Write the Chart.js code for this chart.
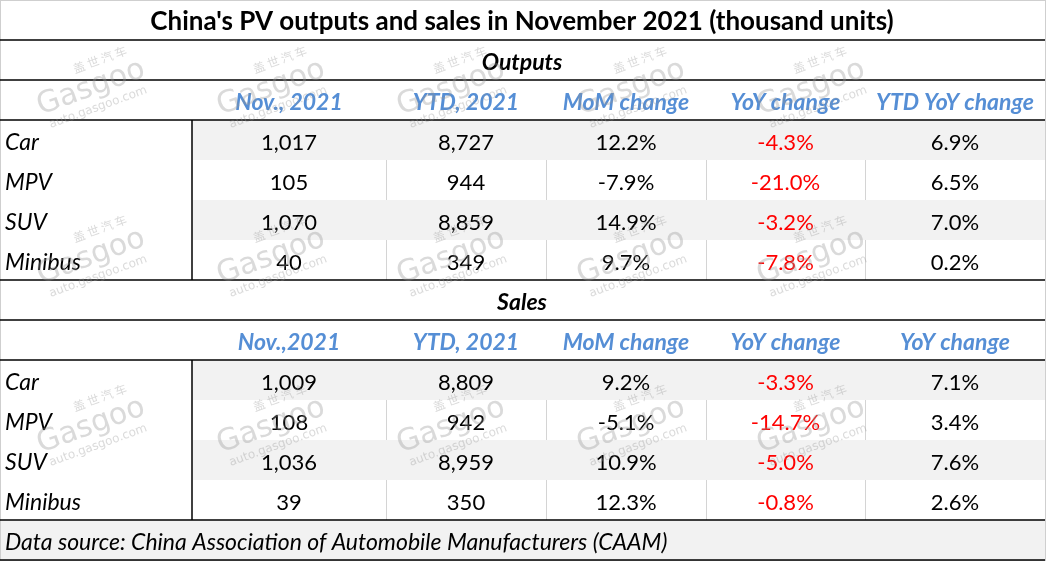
<!DOCTYPE html>
<html>
<head>
<meta charset="utf-8">
<script src="https://cdn.jsdelivr.net/npm/chart.js@4.4.1/dist/chart.umd.min.js"></script>
<style>
  html, body { margin: 0; padding: 0; background: #fff; }
  #wrap { width: 1047px; height: 566px; }
</style>
</head>
<body>
<div id="wrap"><canvas id="table" width="1047" height="566"></canvas></div>
<script>
// table contents
const title = "China's PV outputs and sales in November 2021 (thousand units)";
const categories = ['Car', 'MPV', 'SUV', 'Minibus'];
const outputHeaders = ['Nov., 2021', 'YTD, 2021', 'MoM change', 'YoY change', 'YTD YoY change'];
const salesHeaders = ['Nov.,2021', 'YTD, 2021', 'MoM change', 'YoY change', 'YoY change'];

const outputNov = [1017, 105, 1070, 40];
const outputYtd = [8727, 944, 8859, 349];
const outputMom = [12.2, -7.9, 14.9, 9.7];
const outputYoy = [-4.3, -21.0, -3.2, -7.8];
const outputYtdYoy = [6.9, 6.5, 7.0, 0.2];

const salesNov = [1009, 108, 1036, 39];
const salesYtd = [8809, 942, 8959, 350];
const salesMom = [9.2, -5.1, 10.9, 12.3];
const salesYoy = [-3.3, -14.7, -5.0, -0.8];
const salesYtdYoy = [7.1, 3.4, 7.6, 2.6];

const source = 'Data source: China Association of Automobile Manufacturers (CAAM)';

// layout (x in px units, y in rows)
const colEdges = [0, 192, 386, 546, 706, 865, 1045];
const BASE = 0.74; // baseline inside a row
const blue = '#558ed5';
const red = '#ff0000';

const fmtNum = v => v.toLocaleString('en-US');
const fmtPct = v => v.toFixed(1) + '%';
const colMid = c => (colEdges[c] + colEdges[c + 1]) / 2;

const cells = [];
function cell(x, row, text, font, color, align) {
  cells.push({ x: x, y: row + BASE, text: text, font: font, color: color || '#000', align: align || 'center' });
}

function section(startRow, name, headers, cols) {
  cell(522, startRow, name, 'italic bold 23px Lato');
  headers.forEach((h, i) => cell(colMid(i + 1), startRow + 1, h, 'italic bold 23px Lato', blue));
  categories.forEach((cat, r) => {
    const row = startRow + 2 + r;
    cell(5, row, cat, 'italic 23px Lato', '#000', 'left');
    cell(colMid(1), row, fmtNum(cols[0][r]), '22px Lato');
    cell(colMid(2), row, fmtNum(cols[1][r]), '22px Lato');
    cell(colMid(3), row, fmtPct(cols[2][r]), '22px Lato');
    cell(colMid(4), row, fmtPct(cols[3][r]), '22px Lato', red);
    cell(colMid(5), row, fmtPct(cols[4][r]), '22px Lato');
  });
}

cell(522, 0, title, 'bold 26px Lato');
section(1, 'Outputs', outputHeaders, [outputNov, outputYtd, outputMom, outputYoy, outputYtdYoy]);
section(7, 'Sales', salesHeaders, [salesNov, salesYtd, salesMom, salesYoy, salesYtdYoy]);
cell(5, 13, source, 'italic 23px Lato', '#000', 'left');

const shadedRows = [3, 5, 9, 11];
const plainRows = [4, 6, 10, 12];
const blackLines = [1, 2, 3, 7, 8, 9, 13, 14];
const marks = [];
[85, 254, 423].forEach(y => [90, 270, 450, 630, 810].forEach(x => marks.push({ x, y })));

const gridPlugin = {
  id: 'grid',
  beforeDatasetsDraw(chart) {
    const { ctx, scales: { x, y } } = chart;
    const px = v => x.getPixelForValue(v);
    const py = v => y.getPixelForValue(v);
    ctx.save();
    ctx.fillStyle = '#f2f2f2';
    shadedRows.forEach(r => ctx.fillRect(px(colEdges[1]), py(r), px(colEdges[6]) - px(colEdges[1]), py(r + 1) - py(r)));
    ctx.fillRect(px(0), py(13), px(colEdges[6]) - px(0), py(14) - py(13));

    ctx.strokeStyle = '#d4d4d4';
    ctx.lineWidth = 1;
    plainRows.forEach(r => {
      for (let c = 2; c <= 5; c++) {
        ctx.beginPath();
        ctx.moveTo(px(colEdges[c]) + 0.5, py(r));
        ctx.lineTo(px(colEdges[c]) + 0.5, py(r + 1));
        ctx.stroke();
      }
    });
    ctx.strokeStyle = '#cfcfcf';
    ctx.strokeRect(0.5, 0.5, px(colEdges[6]), py(14));

    ctx.strokeStyle = '#000';
    ctx.lineWidth = 1.5;
    blackLines.forEach(r => {
      ctx.beginPath();
      ctx.moveTo(px(0), py(r));
      ctx.lineTo(px(colEdges[6]), py(r));
      ctx.stroke();
    });
    [[3, 7], [9, 13]].forEach(([a, b]) => {
      ctx.beginPath();
      ctx.moveTo(px(colEdges[1]), py(a));
      ctx.lineTo(px(colEdges[1]), py(b));
      ctx.stroke();
    });
    ctx.restore();
  },
  afterDatasetsDraw(chart) {
    const { ctx } = chart;
    const meta = chart.getDatasetMeta(0);
    ctx.save();
    ctx.textBaseline = 'alphabetic';
    meta.data.forEach((pt, i) => {
      const c = cells[i];
      ctx.font = c.font;
      ctx.fillStyle = c.color;
      ctx.textAlign = c.align;
      ctx.fillText(c.text, pt.x, pt.y);
    });

    // faint watermarks
    const { scales: { x, y } } = chart;
    ctx.fillStyle = 'rgba(150,150,150,0.35)';
    ctx.textAlign = 'center';
    marks.forEach(m => {
      ctx.save();
      ctx.translate(x.getPixelForValue(m.x), y.getPixelForValue(m.y / 40));
      ctx.rotate(-20 * Math.PI / 180);
      ctx.font = '30px "DejaVu Sans"';
      ctx.fillText('Gasgoo', 0, 11);
      ctx.font = '12px "Noto Sans CJK SC"';
      ctx.fillText('盖 世 汽 车', 18, -16);
      ctx.font = '12px "DejaVu Sans"';
      ctx.fillText('auto.gasgoo.com', 0, 27);
      ctx.restore();
    });
    ctx.restore();
  }
};

new Chart(document.getElementById('table'), {
  type: 'scatter',
  data: {
    datasets: [{
      data: cells.map(c => ({ x: c.x, y: c.y })),
      pointRadius: 0,
      pointHoverRadius: 0
    }]
  },
  options: {
    responsive: false,
    animation: false,
    devicePixelRatio: 1,
    layout: { padding: 0 },
    events: [],
    plugins: { legend: { display: false }, tooltip: { enabled: false } },
    scales: {
      x: { type: 'linear', min: 0, max: 1047, display: false },
      y: { type: 'linear', min: 0, max: 566 / 40, reverse: true, display: false }
    }
  },
  plugins: [gridPlugin]
});
</script>
</body>
</html>
